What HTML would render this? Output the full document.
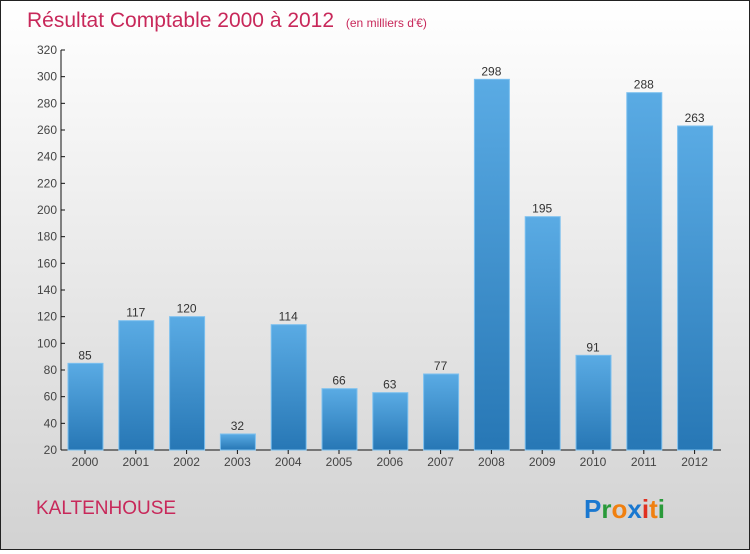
<!DOCTYPE html>
<html><head><meta charset="utf-8"><style>
body{margin:0;width:750px;height:550px;overflow:hidden}
#wrap{position:relative;width:748px;height:548px;border:1px solid #222;background:linear-gradient(#ffffff,#d2d2d2);font-family:"Liberation Sans",sans-serif}
</style></head><body>
<div id="wrap">
<svg id="svg" width="748" height="548" xmlns="http://www.w3.org/2000/svg">
<defs><linearGradient id="bg" x1="0" y1="0" x2="0" y2="1"><stop offset="0" stop-color="#5aabe4"/><stop offset="1" stop-color="#2777b5"/></linearGradient></defs>
<text x="26" y="26" font-size="21" fill="#c8285a">Résultat Comptable 2000 à 2012 <tspan font-size="12" dx="6">(en milliers d'€)</tspan></text>
<text x="35" y="513" font-size="19" fill="#c8285a">KALTENHOUSE</text>
<g font-size="26" font-weight="bold" font-family="Liberation Sans, sans-serif">
<text x="583" y="517"><tspan fill="#1a78d0">P</tspan><tspan fill="#2a9a3a">r</tspan><tspan fill="#f08010">o</tspan><tspan fill="#1a78d0">x</tspan><tspan fill="#e03020">i</tspan><tspan fill="#f08010">t</tspan><tspan fill="#2a9a3a">i</tspan></text></g>
<g id="plot"></g>
</svg></div>
<script>
const categories=["2000","2001","2002","2003","2004","2005","2006","2007","2008","2009","2010","2011","2012"];
const values=[85,117,120,32,114,66,63,77,298,195,91,288,263];
const ticks=[20,40,60,80,100,120,140,160,180,200,220,240,260,280,300,320];
const NS="http://www.w3.org/2000/svg";
const g=document.getElementById('plot');
const y0=449,y1=49,vmin=20,vmax=320;
const Y=v=>y0-(v-vmin)/(vmax-vmin)*(y0-y1);
const X=i=>84+i*50.8;
function mk(t,a,p){const e=document.createElementNS(NS,t);for(const k in a)e.setAttribute(k,a[k]);(p||g).appendChild(e);return e;}
let ax=mk('line',{x1:60,y1:y1,x2:60,y2:y0,stroke:'#111'});


let bx=mk('line',{x1:60,y1:y0,x2:720,y2:y0,stroke:'#111'});


ticks.forEach(t=>{
 mk('line',{x1:60,y1:Y(t),x2:64,y2:Y(t),stroke:'#111'});
 const tx=mk('text',{x:56,y:Y(t)+4,'text-anchor':'end','font-size':'12',fill:'#444'});
 tx.textContent=t;
 
 
});
categories.forEach((c,i)=>{
 const v=values[i],x=X(i);
 const r=mk('rect',{x:x-17,y:Y(v),width:35,height:y0-Y(v),fill:'url(#bg)',stroke:'#7cc0ef','stroke-width':1});
 
 
 const l=mk('text',{x:x,y:Y(v)-4,'text-anchor':'middle','font-size':'12',fill:'#333'});
 l.textContent=v;
 
 
 mk('line',{x1:x,y1:y0,x2:x,y2:y0+4,stroke:'#111'});
 const xl=mk('text',{x:x,y:y0+16,'text-anchor':'middle','font-size':'12',fill:'#444'});
 xl.textContent=c;
 
 
});
</script>
</body></html>
